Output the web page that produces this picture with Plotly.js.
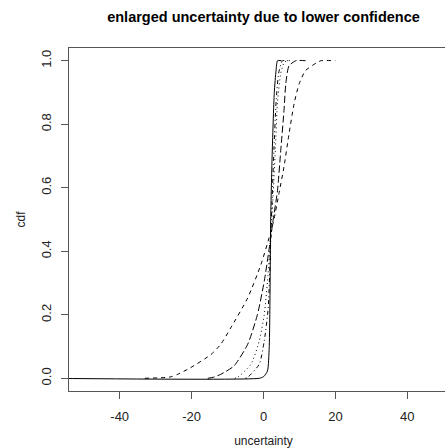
<!DOCTYPE html>
<html>
<head>
<meta charset="utf-8">
<script src="https://cdn.plot.ly/plotly-3.0.1.min.js"></script>
<style>
html,body{margin:0;padding:0;overflow:hidden;background:#fff;}
#chart{width:470px;height:448px;}
</style>
</head>
<body>
<div id="chart"></div>
<script>
// Curve A (widest, dashed)
var xA = [-33, -26, -24, -20.5, -14.6, -11.9, -9.1, -4.4, -0.75, 2.0, 2.9, 4.3, 5.7, 7.1, 8.5, 9.9, 11.7, 15, 16, 20];
var pA = [0, 0.004, 0.012, 0.032, 0.075, 0.107, 0.159, 0.253, 0.357, 0.46, 0.5, 0.582, 0.666, 0.77, 0.864, 0.927, 0.969, 0.995, 1, 1];
// Curve B (long dash)
var xB = [-15.5, -14, -11.9, -8.2, -4.4, -1.7, 0.2, 1.6, 2.7, 3.9, 4.8, 5.7, 6.2, 7.1, 9, 11.7];
var pB = [0, 0.003, 0.0125, 0.039, 0.107, 0.2, 0.305, 0.41, 0.5, 0.592, 0.718, 0.843, 0.927, 0.984, 1, 1];
// Curve C (dotted)
var xC = [-8, -7.2, -3.5, -1.2, 0.2, 1.1, 2.3, 3.3, 3.9, 4.8, 5.8, 6.7, 8];
var pC = [0, 0.003, 0.044, 0.117, 0.2, 0.305, 0.5, 0.72, 0.87, 0.96, 0.995, 1, 1];
// Curve D (dot-dash)
var xD = [-5, -4.4, -1.2, 0.2, 1.3, 2.2, 2.9, 3.5, 4.2, 5.0, 5.3, 7];
var pD = [0, 0.003, 0.044, 0.117, 0.22, 0.5, 0.72, 0.87, 0.96, 0.995, 1, 1];
// Curve E (narrowest, solid)
var xE = [-60, -1.2, 0, 1.1, 1.6, 2.0, 2.4, 3.0, 3.5, 3.9, 5];
var pE = [0, 0, 0.005, 0.023, 0.1, 0.5, 0.7, 0.9, 0.97, 1, 1];

var xTicks = [-40, -20, 0, 20, 40];
var xTickText = ["-40", "-20", "0", "20", "40"];
var yTicks = [0, 0.2, 0.4, 0.6, 0.8, 1.0];
var yTickText = ["0.0", "0.2", "0.4", "0.6", "0.8", "1.0"];

function tr(x, y, dash) {
  return {x: x, y: y, type: 'scatter', mode: 'lines',
    line: {color: '#000', width: 1, dash: dash, shape: 'spline', smoothing: 0.6},
    hoverinfo: 'none', showlegend: false};
}
var data = [
  tr(xE, pE, 'solid'),
  tr(xA, pA, '4px,4px'),
  tr(xB, pB, '7px,3px'),
  tr(xC, pC, '1px,3px'),
  tr(xD, pD, '1px,3px,4px,3px')
];
var axisColor = '#555';
var layout = {
  width: 470, height: 448,
  margin: {l: 69, r: 12, t: 48, b: 57},
  paper_bgcolor: '#fff', plot_bgcolor: '#fff',
  font: {family: 'Liberation Sans, Arial, sans-serif', color: '#222', size: 12},
  title: {text: '<b>enlarged uncertainty due to lower confidence</b>', x: 0.5, xref: 'paper', xanchor: 'center',
    y: 1, yref: 'container', yanchor: 'top', pad: {t: 12},
    font: {family: 'Liberation Sans, Arial, sans-serif', size: 14.5, color: '#000'}},
  xaxis: {range: [-54.1, 54.1], tickvals: xTicks, ticktext: xTickText, ticks: 'outside', ticklen: 7, tickcolor: axisColor,
    showline: true, mirror: true, linecolor: axisColor, linewidth: 1, showgrid: false, zeroline: false,
    automargin: false, ticklabelstandoff: 6,
    tickfont: {size: 13, color: '#222'},
    title: {text: 'uncertainty', font: {size: 12, color: '#222'}, standoff: 21}},
  yaxis: {range: [-0.04, 1.04], tickvals: yTicks, ticktext: yTickText, tickangle: -90,
    ticks: 'outside', ticklen: 7, tickcolor: axisColor,
    showline: true, mirror: true, linecolor: axisColor, linewidth: 1, showgrid: false, zeroline: false,
    automargin: false, ticklabelstandoff: 5,
    tickfont: {size: 13, color: '#222'},
    title: {text: 'cdf', font: {size: 12, color: '#222'}, standoff: 10}}
};
Plotly.newPlot('chart', data, layout, {displayModeBar: false, staticPlot: true});
</script>
</body>
</html>
